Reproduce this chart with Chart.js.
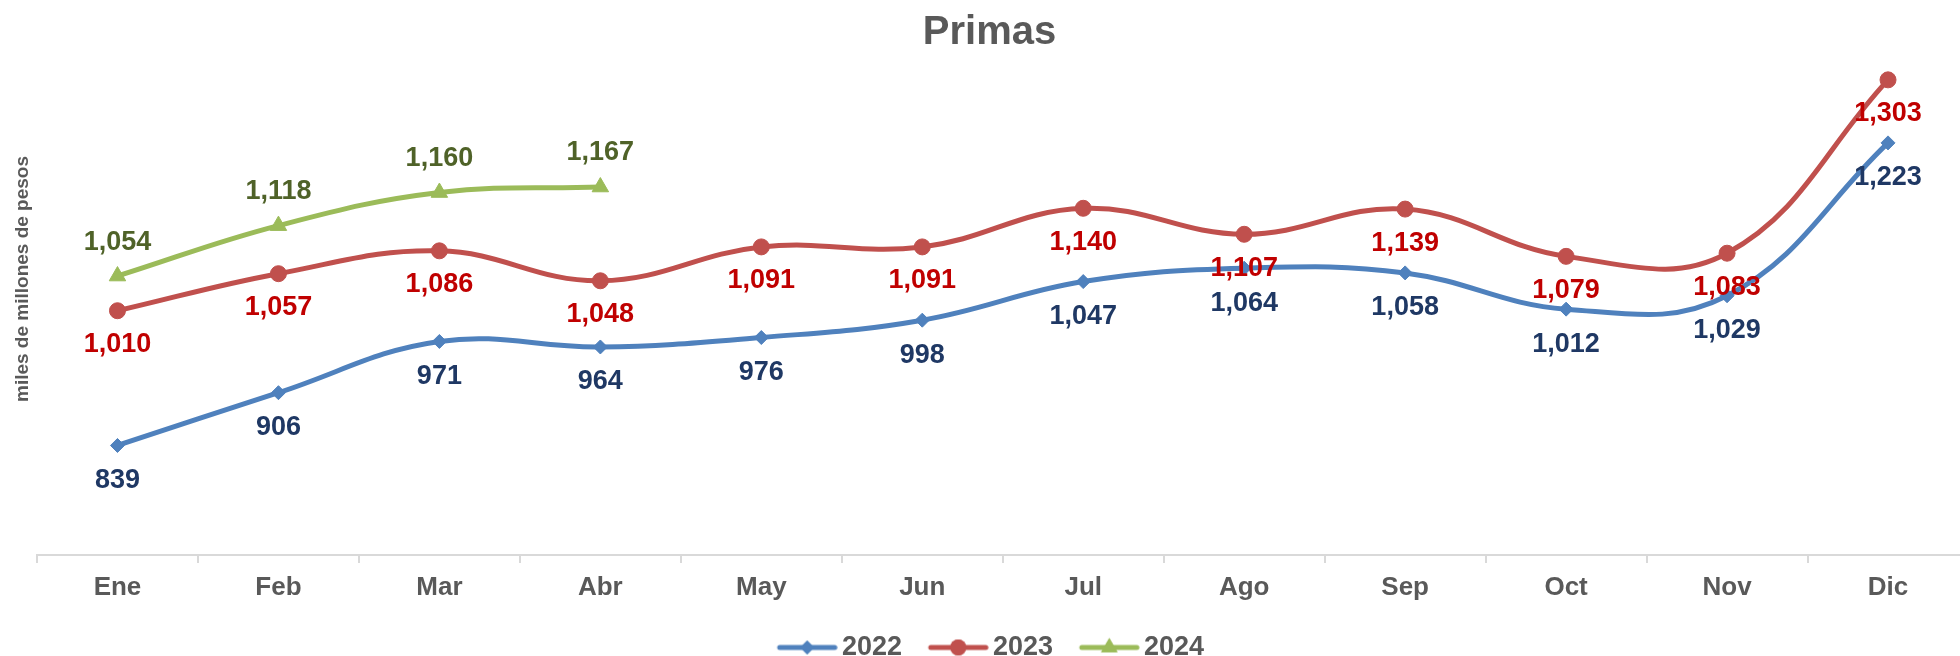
<!DOCTYPE html>
<html lang="es">
<head>
<meta charset="utf-8">
<title>Primas</title>
<script src="https://cdn.jsdelivr.net/npm/chart.js@4/dist/chart.umd.min.js"></script>
<style>
  body { margin: 0; background: #fff; overflow: hidden; }
  /* el área de trazado sigue un poco más allá del borde derecho, como en el original */
  .chart-box { position: relative; width: 1979px; height: 671px; }
</style>
</head>
<body>
<div class="chart-box"><canvas id="primasChart"></canvas></div>
<script>
// Datos (miles de millones de pesos)
const meses = ['Ene', 'Feb', 'Mar', 'Abr', 'May', 'Jun', 'Jul', 'Ago', 'Sep', 'Oct', 'Nov', 'Dic'];
const primas2022 = [839, 906, 971, 964, 976, 998, 1047, 1064, 1058, 1012, 1029, 1223];
const primas2023 = [1010, 1057, 1086, 1048, 1091, 1091, 1140, 1107, 1139, 1079, 1083, 1303];
const primas2024 = [1054, 1118, 1160, 1167];
const anios = ['2022', '2023', '2024'];

const FONT = '"Liberation Sans", Arial, sans-serif';
const GRIS = '#595959';

const estilos = [
    { line: '#4F81BD', label: '#1F3864', marker: 'rectRot', radius: 7, offset: 35 },
    { line: '#C0504D', label: '#C00000', marker: 'circle', radius: 8, offset: 34 },
    { line: '#9BBB59', label: '#4F6228', marker: 'triangle', radius: 9.5, offset: -34 }
];

Chart.defaults.font.family = FONT;

// Iconos de la leyenda: línea con el marcador al centro
function iconoLeyenda(est) {
    const c = document.createElement('canvas');
    c.width = 72;
    c.height = 22;
    const g = c.getContext('2d');
    g.strokeStyle = est.line;
    g.fillStyle = est.line;
    g.lineWidth = 5;
    g.lineCap = 'round';
    g.beginPath();
    g.moveTo(14, 11);
    g.lineTo(69, 11);
    g.stroke();
    Chart.helpers.drawPoint(g, { pointStyle: est.marker, radius: est.radius, borderWidth: 0 }, 41.5, 11);
    g.fill();
    return c;
}
const iconos = estilos.map(iconoLeyenda);

// Etiquetas de valor sobre/bajo cada punto
const etiquetasValor = {
    id: 'etiquetasValor',
    afterDatasetsDraw(chart) {
        const ctx = chart.ctx;
        chart.data.datasets.forEach((ds, i) => {
            const meta = chart.getDatasetMeta(i);
            ctx.save();
            ctx.font = 'bold 27px ' + FONT;
            ctx.fillStyle = estilos[i].label;
            ctx.textAlign = 'center';
            ctx.textBaseline = 'middle';
            meta.data.forEach((pt, j) => {
                const v = ds.data[j];
                if (v == null) return;
                ctx.fillText(v.toLocaleString('en-US'), pt.x, pt.y + estilos[i].offset);
            });
            ctx.restore();
        });
    }
};

// Título del eje vertical
const tituloEjeY = {
    id: 'tituloEjeY',
    afterDraw(chart) {
        const ctx = chart.ctx;
        ctx.save();
        ctx.translate(23, 279);
        ctx.rotate(-Math.PI / 2);
        ctx.font = 'bold 19px ' + FONT;
        ctx.fillStyle = GRIS;
        ctx.textAlign = 'center';
        ctx.textBaseline = 'middle';
        ctx.fillText('miles de millones de pesos', 0, 0);
        ctx.restore();
    }
};

const series = [primas2022, primas2023, primas2024];

new Chart(document.getElementById('primasChart'), {
    type: 'line',
    data: {
        labels: meses,
        datasets: series.map((datos, i) => ({
            label: anios[i],
            data: datos,
            borderColor: estilos[i].line,
            backgroundColor: estilos[i].line,
            borderWidth: 5,
            tension: 0.4,
            pointStyle: estilos[i].marker,
            pointRadius: estilos[i].radius,
            pointBackgroundColor: estilos[i].line,
            pointBorderColor: estilos[i].line,
            pointBorderWidth: 1,
            clip: false
        }))
    },
    options: {
        responsive: true,
        maintainAspectRatio: false,
        animation: false,
        scales: {
            x: {
                offset: true,
                grid: { offset: true, drawOnChartArea: false, tickLength: 8, color: '#d9d9d9', lineWidth: 2 },
                border: { display: true, color: '#d9d9d9', width: 2 },
                ticks: { color: GRIS, font: { size: 26, weight: 'bold' }, padding: 9 },
                afterFit(scale) { scale.height = 55; }
            },
            y: {
                min: 700,
                max: 1332,
                grid: { display: false },
                border: { display: false },
                ticks: { display: false },
                afterFit(scale) { scale.width = 37; }
            }
        },
        plugins: {
            title: {
                display: true,
                text: 'Primas',
                color: GRIS,
                font: { size: 40, weight: 'bold' },
                padding: { top: 9, bottom: 0 }
            },
            legend: {
                position: 'bottom',
                labels: {
                    usePointStyle: true,
                    pointStyleWidth: 53.5,
                    padding: 24,
                    color: GRIS,
                    font: { size: 27, weight: 'bold' },
                    generateLabels(chart) {
                        const items = Chart.defaults.plugins.legend.labels.generateLabels(chart);
                        items.forEach(it => { it.pointStyle = iconos[it.datasetIndex]; });
                        return items;
                    }
                }
            },
            tooltip: { enabled: false }
        }
    },
    plugins: [etiquetasValor, tituloEjeY]
});
</script>
</body>
</html>
